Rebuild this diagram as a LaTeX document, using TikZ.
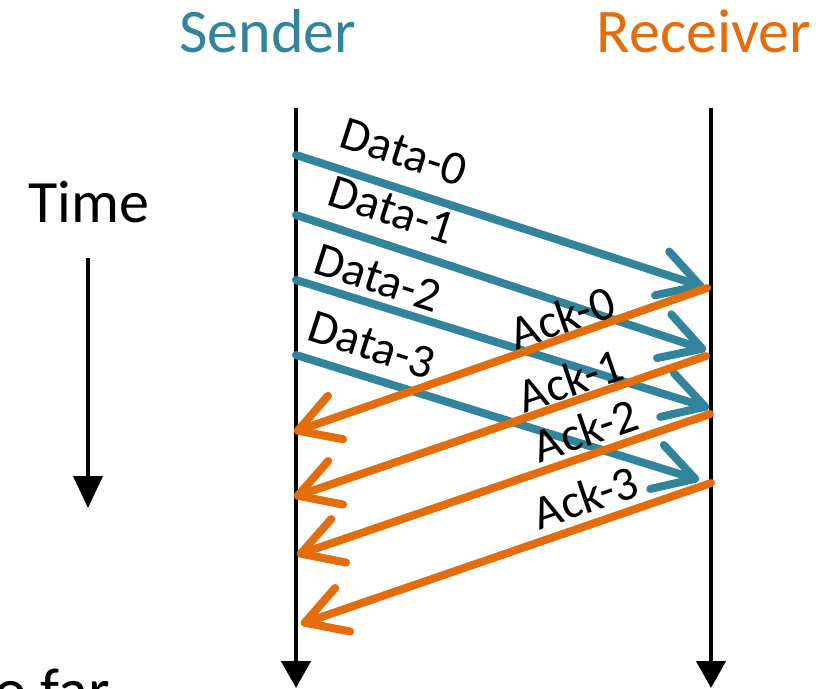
\documentclass[tikz,border=0pt]{standalone}
\usepackage{fontspec}
\setmainfont{Carlito}
\usetikzlibrary{arrows.meta}
\definecolor{sendblue}{HTML}{31849B}
\definecolor{recvorange}{HTML}{E46C0A}
\tikzset{
	lifeline/.style={line width=4.5pt, -{Triangle[length=27pt,width=29pt]}},
	datamsg/.style={line width=8pt, line cap=round, sendblue, -{Straight Barb[length=40pt,width=46pt,round]}},
	ackmsg/.style={line width=8pt, line cap=round, recvorange, -{Straight Barb[length=40pt,width=46pt,round]}},
	msglabel/.style={font=\fontsize{48}{56}\selectfont, inner sep=0pt},
	bigtext/.style={font=\fontsize{62}{74}\selectfont, inner sep=0pt, anchor=base},
}
\begin{document}
\begin{tikzpicture}[x=1pt, y=-1pt]
		\useasboundingbox (0,0) rectangle (818,688);
		% end points on the two time lines
		\coordinate (stop) at (296,108);
		\coordinate (sbot) at (296,688);
		\coordinate (rtop) at (711,108);
		\coordinate (rbot) at (711,688);
		\coordinate (d0s) at (296,155);
		\coordinate (d1s) at (296,215);
		\coordinate (d2s) at (296,280);
		\coordinate (d3s) at (296,355);
		\coordinate (d0e) at (704,287);
		\coordinate (d1e) at (706,350);
		\coordinate (d2e) at (709,408);
		\coordinate (d3e) at (699,480);
		\coordinate (a0s) at (707,288);
		\coordinate (a1s) at (706,356);
		\coordinate (a2s) at (710,414);
		\coordinate (a3s) at (711,483);
		\coordinate (a0e) at (294,432);
		\coordinate (a1e) at (294,497);
		\coordinate (a2e) at (297,555);
		\coordinate (a3e) at (301,624);
		\coordinate (ttop) at (88,258);
		\coordinate (tbot) at (88,508);
		\draw[lifeline] (stop) -- (sbot);
		\draw[lifeline] (rtop) -- (rbot);
		\draw[line width=4pt, -{Triangle[length=32pt,width=29pt]}] (ttop) -- (tbot);
		\node[bigtext, sendblue] (sender) at (268,52) {Sender};
		\node[bigtext, recvorange] (receiver) at (704,52) {Receiver};
		\node[bigtext, font=\fontsize{60}{72}\selectfont] (time) at (89,222) {Time};
		\node[bigtext, anchor=base west] (sofar) at (-6,711) {o far};
		\draw[datamsg] (d0s) -- (d0e);
		\draw[datamsg] (d1s) -- (d1e);
		\draw[datamsg] (d2s) -- (d2e);
		\draw[datamsg] (d3s) -- (d3e);
		\draw[ackmsg] (a0s) -- (a0e);
		\draw[ackmsg] (a1s) -- (a1e);
		\draw[ackmsg] (a2s) -- (a2e);
		\draw[ackmsg] (a3s) -- (a3e);
		\node[msglabel, rotate=-18] (data0) at (404,152) {Data-0};
		\node[msglabel, rotate=-18] (data1) at (392,210) {Data-1};
		\node[msglabel, rotate=-18] (data2) at (378,278) {Data-2};
		\node[msglabel, rotate=-18] (data3) at (372,345) {Data-3};
		\node[msglabel, rotate=19] (ack0) at (562,317) {Ack-0};
		\node[msglabel, rotate=19] (ack1) at (570,380) {Ack-1};
		\node[msglabel, rotate=19] (ack2) at (585,430) {Ack-2};
		\node[msglabel, rotate=19] (ack3) at (585,497) {Ack-3};
	\end{tikzpicture}
\end{document}
